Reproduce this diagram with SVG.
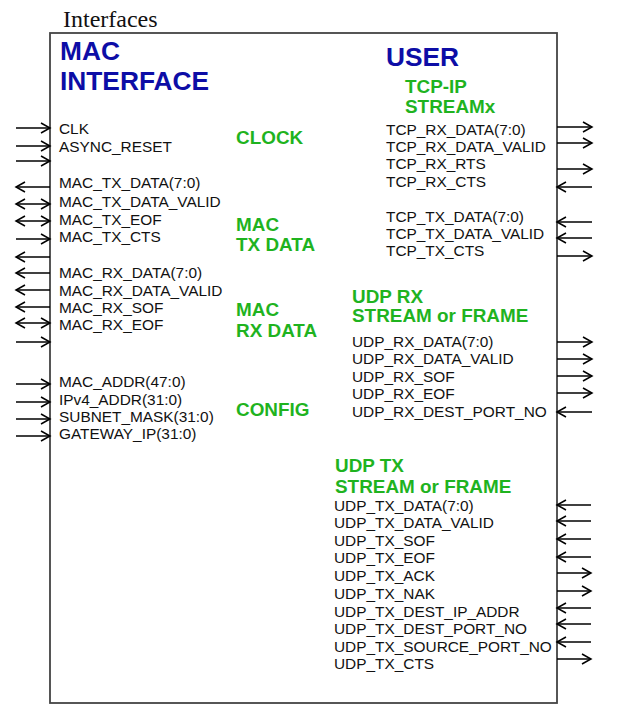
<svg xmlns="http://www.w3.org/2000/svg" width="626" height="724" viewBox="0 0 626 724">
<defs>
<marker id="ah" markerUnits="userSpaceOnUse" markerWidth="12" markerHeight="12" refX="9" refY="5" orient="auto-start-reverse" viewBox="-1 -1 12 12">
<path d="M0,0 L9,5 L0,10" fill="none" stroke="#000" stroke-width="1.5"/>
</marker>
<style>
.sig{font-family:"Liberation Sans",Arial,sans-serif;font-size:15.4px;fill:#111}
.hdr{font-family:"Liberation Sans",Arial,sans-serif;font-size:26.3px;font-weight:bold;fill:#0d0da6}
.grp{font-family:"Liberation Sans",Arial,sans-serif;font-size:18.9px;font-weight:bold;fill:#1fb31f}
.ttl{font-family:"Liberation Serif","Times New Roman",serif;font-size:24px;fill:#111}
.w{stroke:#000;stroke-width:1.3;fill:none}
.r{marker-end:url(#ah)}
.d{marker-start:url(#ah);marker-end:url(#ah)}
</style>
</defs>
<rect width="626" height="724" fill="#fff"/>
<text class="ttl" x="63" y="27">Interfaces</text>
<g id="block">
<rect x="50" y="33" width="507" height="670" fill="#fff" stroke="#444" stroke-width="1.8"/>
</g>
<g id="mac-interface">
<text class="hdr" x="60" y="60">MAC</text>
<text class="hdr" x="60" y="90">INTERFACE</text>
<text class="sig" x="59" y="134">CLK</text>
<text class="sig" x="59" y="152">ASYNC_RESET</text>
<text class="sig" x="59" y="188">MAC_TX_DATA(7:0)</text>
<text class="sig" x="59" y="207">MAC_TX_DATA_VALID</text>
<text class="sig" x="59" y="225">MAC_TX_EOF</text>
<text class="sig" x="59" y="242">MAC_TX_CTS</text>
<text class="sig" x="59" y="278">MAC_RX_DATA(7:0)</text>
<text class="sig" x="59" y="296">MAC_RX_DATA_VALID</text>
<text class="sig" x="59" y="313">MAC_RX_SOF</text>
<text class="sig" x="59" y="330">MAC_RX_EOF</text>
<text class="sig" x="59" y="387">MAC_ADDR(47:0)</text>
<text class="sig" x="59" y="405">IPv4_ADDR(31:0)</text>
<text class="sig" x="59" y="422">SUBNET_MASK(31:0)</text>
<text class="sig" x="59" y="439">GATEWAY_IP(31:0)</text>
</g>
<g id="groups-left">
<text class="grp" x="236" y="144">CLOCK</text>
<text class="grp" x="236" y="231">MAC</text>
<text class="grp" x="236" y="251">TX DATA</text>
<text class="grp" x="236" y="316">MAC</text>
<text class="grp" x="236" y="337">RX DATA</text>
<text class="grp" x="236" y="416">CONFIG</text>
</g>
<g id="user-tcp">
<text class="hdr" x="386" y="66">USER</text>
<text class="grp" x="405" y="93">TCP-IP</text>
<text class="grp" x="405" y="113">STREAMx</text>
<text class="sig" x="386" y="135">TCP_RX_DATA(7:0)</text>
<text class="sig" x="386" y="152">TCP_RX_DATA_VALID</text>
<text class="sig" x="386" y="169">TCP_RX_RTS</text>
<text class="sig" x="386" y="187">TCP_RX_CTS</text>
<text class="sig" x="386" y="222">TCP_TX_DATA(7:0)</text>
<text class="sig" x="386" y="239">TCP_TX_DATA_VALID</text>
<text class="sig" x="386" y="256">TCP_TX_CTS</text>
</g>
<g id="user-udp-rx">
<text class="grp" x="352" y="303">UDP RX</text>
<text class="grp" x="352" y="322">STREAM or FRAME</text>
<text class="sig" x="352" y="347">UDP_RX_DATA(7:0)</text>
<text class="sig" x="352" y="364">UDP_RX_DATA_VALID</text>
<text class="sig" x="352" y="382">UDP_RX_SOF</text>
<text class="sig" x="352" y="399">UDP_RX_EOF</text>
<text class="sig" x="352" y="417">UDP_RX_DEST_PORT_NO</text>
</g>
<g id="user-udp-tx">
<text class="grp" x="335" y="472">UDP TX</text>
<text class="grp" x="335" y="493">STREAM or FRAME</text>
<text class="sig" x="334" y="511">UDP_TX_DATA(7:0)</text>
<text class="sig" x="334" y="528">UDP_TX_DATA_VALID</text>
<text class="sig" x="334" y="546">UDP_TX_SOF</text>
<text class="sig" x="334" y="563">UDP_TX_EOF</text>
<text class="sig" x="334" y="581">UDP_TX_ACK</text>
<text class="sig" x="334" y="599">UDP_TX_NAK</text>
<text class="sig" x="334" y="617">UDP_TX_DEST_IP_ADDR</text>
<text class="sig" x="334" y="634">UDP_TX_DEST_PORT_NO</text>
<text class="sig" x="334" y="652">UDP_TX_SOURCE_PORT_NO</text>
<text class="sig" x="334" y="669">UDP_TX_CTS</text>
</g>
<g id="connectors" class="w">
<line class="r" x1="16" y1="128" x2="50" y2="128"/>
<line class="r" x1="16" y1="146" x2="50" y2="146"/>
<line class="r" x1="16" y1="161" x2="50" y2="161"/>
<line class="r" x1="50" y1="187" x2="16" y2="187"/>
<line class="d" x1="16" y1="204" x2="50" y2="204"/>
<line class="d" x1="16" y1="221" x2="50" y2="221"/>
<line class="r" x1="16" y1="239" x2="50" y2="239"/>
<line class="r" x1="50" y1="257" x2="16" y2="257"/>
<line class="r" x1="50" y1="273" x2="16" y2="273"/>
<line class="r" x1="50" y1="290" x2="16" y2="290"/>
<line class="r" x1="50" y1="307" x2="16" y2="307"/>
<line class="d" x1="16" y1="323" x2="50" y2="323"/>
<line class="r" x1="16" y1="342" x2="50" y2="342"/>
<line class="r" x1="16" y1="384" x2="50" y2="384"/>
<line class="r" x1="16" y1="402" x2="50" y2="402"/>
<line class="r" x1="16" y1="419" x2="50" y2="419"/>
<line class="r" x1="16" y1="436" x2="50" y2="436"/>
<line class="r" x1="557" y1="127" x2="592" y2="127"/>
<line class="r" x1="557" y1="143" x2="592" y2="143"/>
<line class="r" x1="557" y1="169" x2="592" y2="169"/>
<line class="r" x1="592" y1="187" x2="557" y2="187"/>
<line class="r" x1="592" y1="222" x2="557" y2="222"/>
<line class="r" x1="592" y1="238" x2="557" y2="238"/>
<line class="r" x1="557" y1="256" x2="592" y2="256"/>
<line class="r" x1="557" y1="342" x2="592" y2="342"/>
<line class="r" x1="557" y1="359" x2="592" y2="359"/>
<line class="r" x1="557" y1="376" x2="592" y2="376"/>
<line class="r" x1="557" y1="393" x2="592" y2="393"/>
<line class="r" x1="592" y1="412" x2="557" y2="412"/>
<line class="r" x1="591" y1="505" x2="557" y2="505"/>
<line class="r" x1="591" y1="521" x2="557" y2="521"/>
<line class="r" x1="591" y1="539" x2="557" y2="539"/>
<line class="r" x1="591" y1="557" x2="557" y2="557"/>
<line class="r" x1="557" y1="573" x2="591" y2="573"/>
<line class="r" x1="557" y1="591" x2="591" y2="591"/>
<line class="r" x1="591" y1="608" x2="557" y2="608"/>
<line class="r" x1="591" y1="624" x2="557" y2="624"/>
<line class="r" x1="591" y1="642" x2="557" y2="642"/>
<line class="r" x1="557" y1="659" x2="591" y2="659"/>
</g>
</svg>
